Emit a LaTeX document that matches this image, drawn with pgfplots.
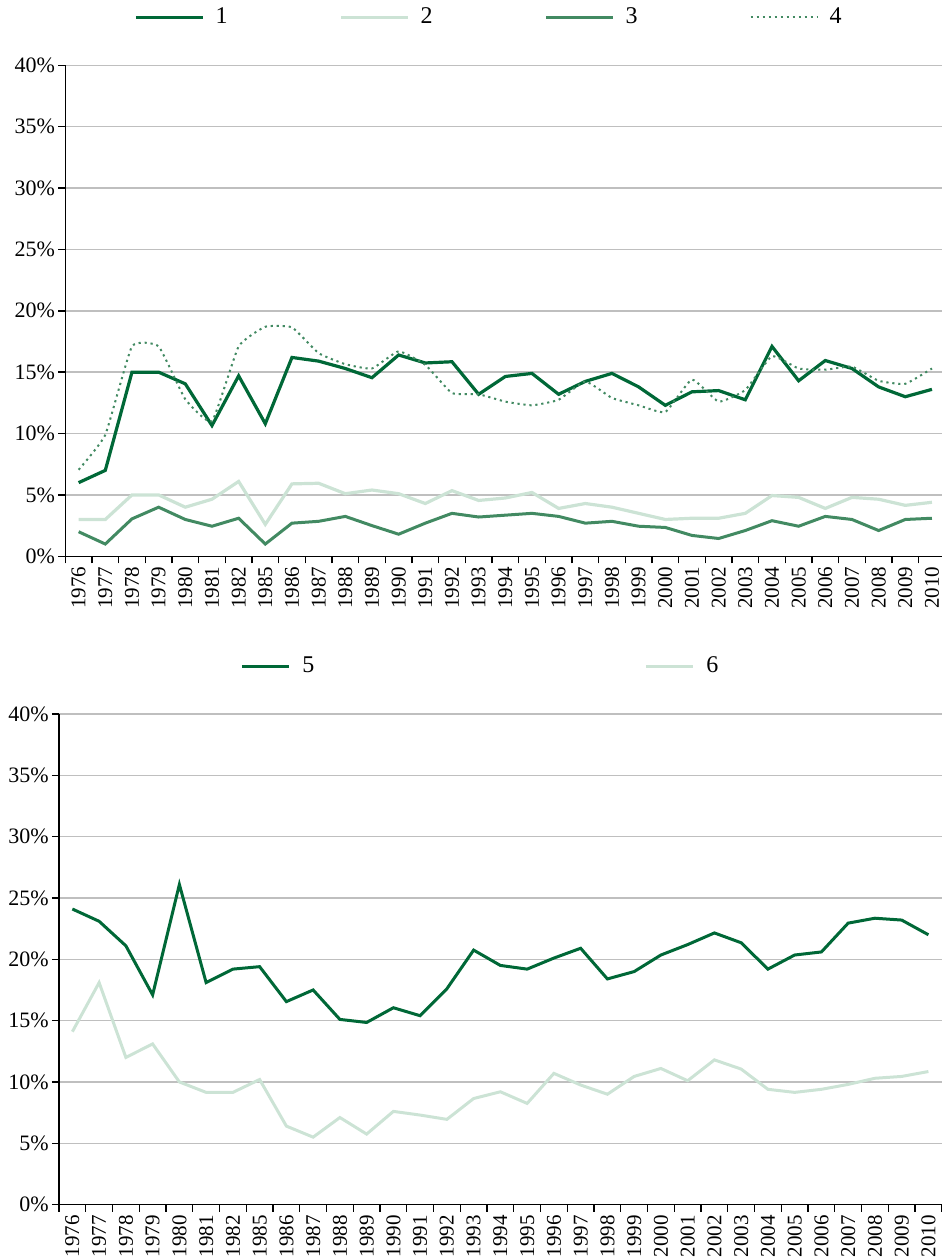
\documentclass[border=0pt]{standalone}
\usepackage{fontspec}
\setmainfont{Liberation Serif}
\usepackage{pgfplots}
\usepackage{pgfplotstable}
\pgfplotsset{compat=1.18}
\definecolor{dkgreen}{RGB}{0,104,55}
\definecolor{ltgreen}{RGB}{204,227,213}
\definecolor{mdgreen}{RGB}{66,138,98}
\pgfplotstableread{
x s1 s2 s3 s4 s5 s6
0 6.0 3.0 2.0 7.05 24.1 14.1
1 7.0 3.0 1.0 9.9 23.1 18.1
2 15.0 5.0 3.05 17.1 21.1 12.0
3 15.0 5.0 4.0 17.1 17.1 13.1
4 14.05 4.0 3.0 12.8 26.1 10.0
5 10.65 4.65 2.45 11.0 18.1 9.15
6 14.7 6.1 3.1 17.1 19.2 9.15
7 10.8 2.6 1.0 18.7 19.4 10.2
8 16.2 5.9 2.7 18.65 16.55 6.4
9 15.9 5.95 2.85 16.55 17.5 5.5
10 15.3 5.1 3.25 15.65 15.1 7.1
11 14.55 5.4 2.5 15.3 14.85 5.75
12 16.4 5.1 1.8 16.7 16.05 7.6
13 15.75 4.3 2.7 15.6 15.4 7.3
14 15.85 5.35 3.5 13.3 17.6 6.95
15 13.2 4.55 3.2 13.2 20.75 8.65
16 14.65 4.75 3.35 12.6 19.5 9.2
17 14.9 5.2 3.5 12.3 19.2 8.25
18 13.2 3.9 3.25 12.75 20.1 10.7
19 14.25 4.3 2.7 14.25 20.9 9.75
20 14.9 4.0 2.85 12.9 18.4 9.0
21 13.8 3.5 2.45 12.3 19.0 10.45
22 12.3 3.0 2.35 11.75 20.35 11.1
23 13.4 3.1 1.7 14.4 21.2 10.1
24 13.5 3.1 1.45 12.6 22.15 11.8
25 12.75 3.5 2.1 13.55 21.35 11.05
26 17.1 4.95 2.9 16.3 19.2 9.4
27 14.3 4.8 2.45 15.3 20.35 9.15
28 15.95 3.9 3.25 15.2 20.6 9.4
29 15.3 4.8 3.0 15.45 22.95 9.8
30 13.8 4.65 2.1 14.3 23.35 10.3
31 13.0 4.15 3.0 14.05 23.2 10.45
32 13.6 4.4 3.1 15.3 22.0 10.85
}\datatable
\pgfplotsset{
  panel/.style={
    scale only axis,
    xmin=-0.5, xmax=32.5, ymin=0, ymax=40,
    axis x line*=bottom, axis y line*=left,
    axis line style={black, line width=0.8pt},
    xtick={-0.5,0.5,...,32.5},
    x tick label as interval,
    xticklabels={1976,1977,1978,1979,1980,1981,1982,1985,1986,1987,1988,1989,1990,1991,1992,1993,1994,1995,1996,1997,1998,1999,2000,2001,2002,2003,2004,2005,2006,2007,2008,2009,2010},
    x tick label style={rotate=90, anchor=east, inner sep=1.5pt},
    ytick={0,5,...,40},
    yticklabels={0\%,5\%,10\%,15\%,20\%,25\%,30\%,35\%,40\%},
    y tick label style={inner sep=1.5pt, font=\fontsize{11}{12}\selectfont},
    tick align=outside, major tick length=3.5pt,
    tick style={black, line width=0.7pt},
    ymajorgrids, grid style={gray!50, line width=0.7pt},
    x tick label style={font=\fontsize{10.5}{12}\selectfont},
    legend cell align=left,
  },
}
\begin{document}
\begin{tikzpicture}
\begin{axis}[panel,
  at={(32.65pt,-32.65pt)}, anchor=north west,
  width=440pt, height=245.5pt,
  legend columns=4,
  legend image code/.code={\draw[#1] (0pt,0pt) -- (33.5pt,0pt);},
  legend style={draw=none, fill=none, inner sep=0pt, nodes={inner sep=0pt},
    at={(0.0780,1)}, anchor=west, yshift=24pt,
    font=\fontsize{12}{14}\selectfont,
    /tikz/every odd column/.append style={column sep=5.5pt},
    /tikz/every even column/.append style={column sep=56pt}},
]
\addplot[dkgreen, line width=1.6pt] table[x=x, y=s1] {\datatable};
\addlegendentry{1}
\addplot[ltgreen, line width=1.6pt] table[x=x, y=s2] {\datatable};
\addlegendentry{2}
\addplot[mdgreen, line width=1.5pt] table[x=x, y=s3] {\datatable};
\addlegendentry{3}
\addplot[mdgreen, line width=1pt, dash pattern=on 1.1pt off 1.9pt, smooth, tension=0.25] table[x=x, y=s4] {\datatable};
\addlegendentry{4}
\end{axis}
\begin{axis}[panel,
  at={(29.5pt,-357pt)}, anchor=north west,
  width=441.4pt, height=245.3pt,
  legend columns=2,
  legend image code/.code={\draw[#1] (0pt,0pt) -- (23.5pt,0pt);},
  legend style={draw=none, fill=none, inner sep=0pt, nodes={inner sep=0pt},
    at={(0.2050,1)}, anchor=west, yshift=24pt,
    font=\fontsize{12}{14}\selectfont,
    /tikz/every odd column/.append style={column sep=6pt},
    /tikz/every even column/.append style={column sep=165pt}},
]
\addplot[dkgreen, line width=1.5pt] table[x=x, y=s5] {\datatable};
\addlegendentry{5}
\addplot[ltgreen, line width=1.5pt] table[x=x, y=s6] {\datatable};
\addlegendentry{6}
\end{axis}
\pgfresetboundingbox
\path[use as bounding box] (0pt,0pt) rectangle (471pt,-629.5pt);
\end{tikzpicture}
\end{document}
